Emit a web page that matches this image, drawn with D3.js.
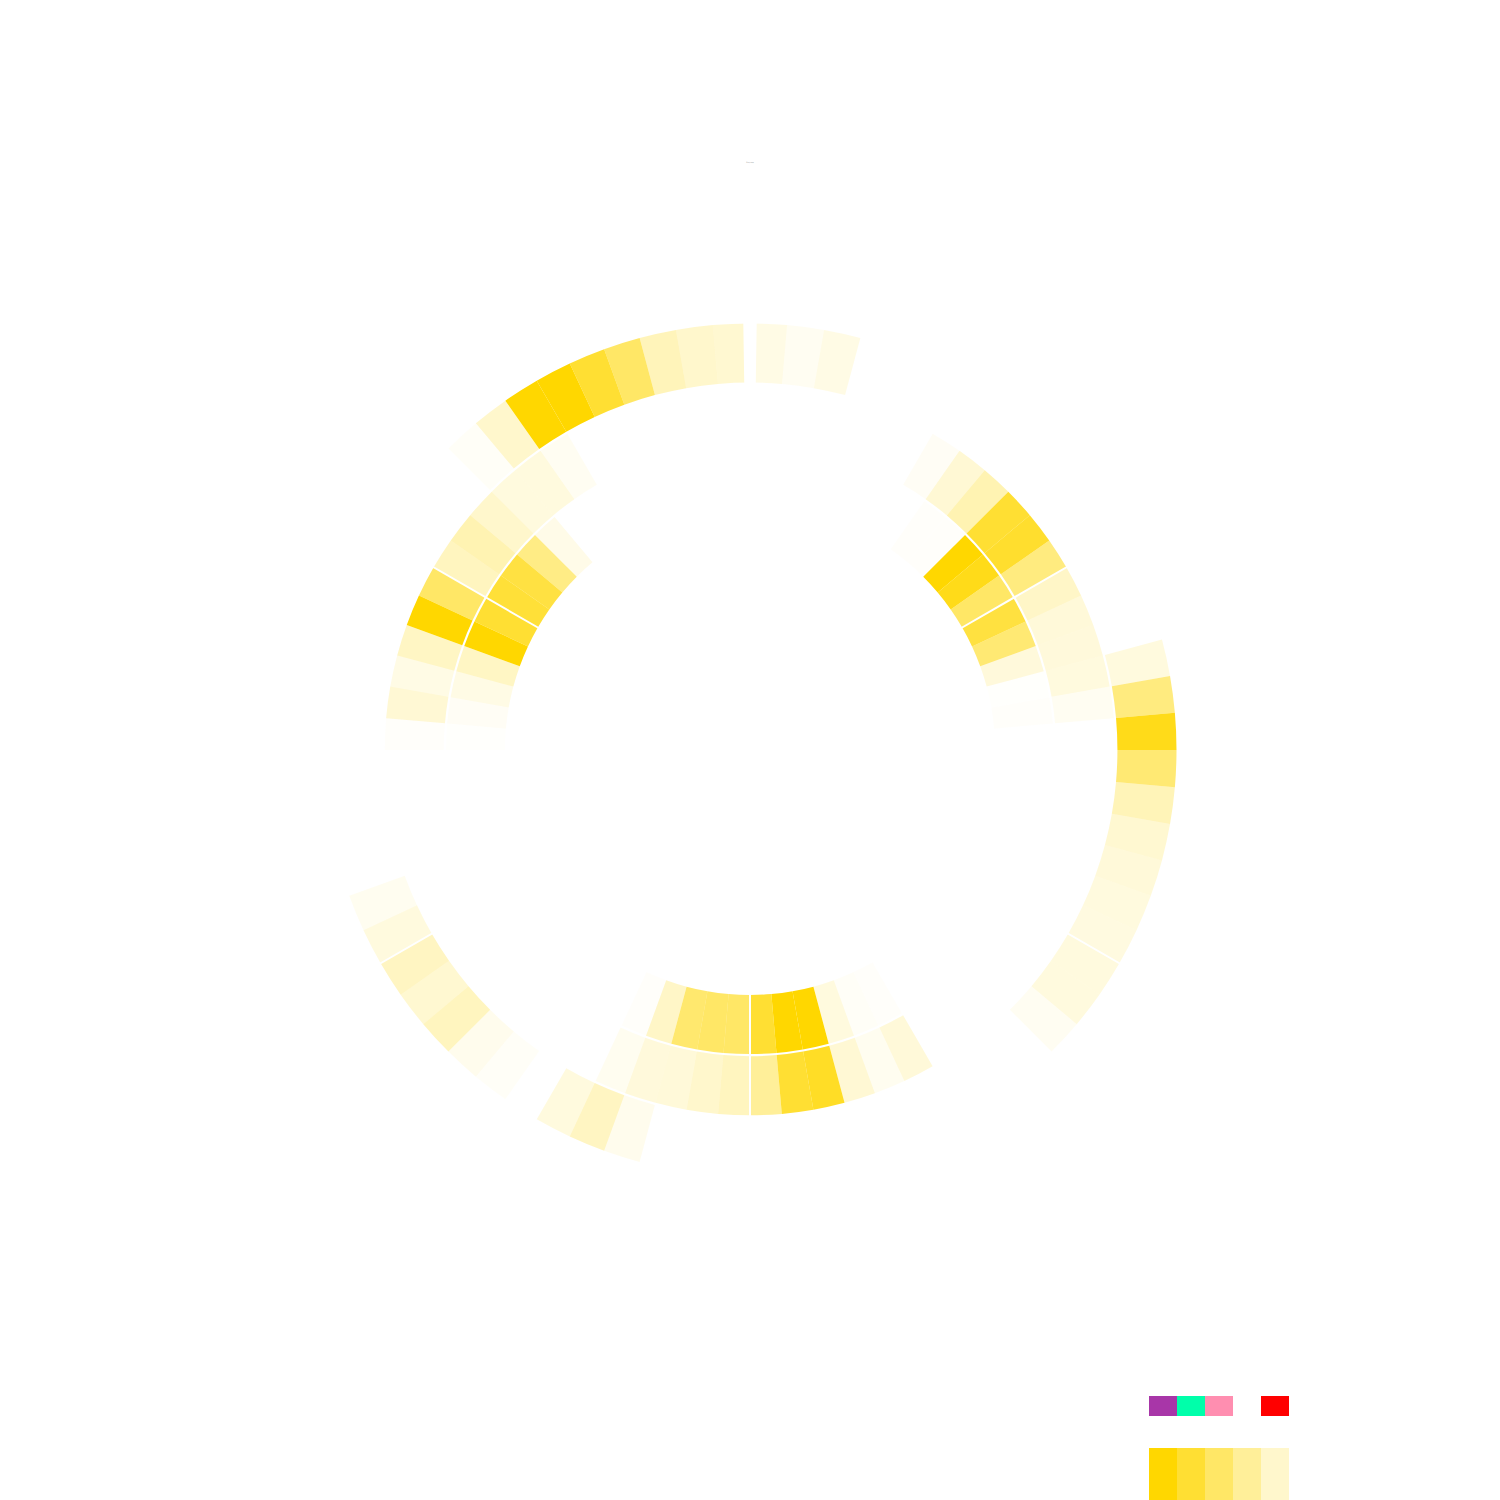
<!DOCTYPE html>
<html>
<head>
<meta charset="utf-8">
<script src="https://cdn.jsdelivr.net/npm/d3@7"></script>
<style>
  html, body { margin: 0; padding: 0; background: #ffffff; }
  svg { display: block; }
</style>
</head>
<body>
<svg id="chart" width="1500" height="1500"></svg>
<script>
// ---- data (72 angular cells of 5 degrees, clockwise from top; null = no cell) ----
const ring0 = [
  null, null, null, null, null, null, null, 0.02, 0.02, 1.0, 0.9, 0.6,
  0.75, 0.55, 0.14, 0.01, 0.02, null, null, null, null, null, null, null,
  null, null, null, null, null, null, 0.02, 0.03, 0.13, 1.0, 1.0, 0.8,
  0.6, 0.6, 0.57, 0.22, 0.02, null, null, null, null, null, null, null,
  null, null, null, null, null, null, 0.01, 0.04, 0.1, 0.23, 1.0, 0.8,
  0.78, 0.74, 0.48, 0.09, null, null, null, null, null, null, null, null
];
const ring1 = [
  null, null, null, null, null, null, 0.04, 0.17, 0.3, 0.8, 0.82, 0.5,
  0.22, 0.15, 0.14, 0.13, 0.05, null, null, null, null, null, null, null,
  null, null, null, null, null, null, 0.15, 0.06, 0.17, 0.85, 0.8, 0.4,
  0.25, 0.2, 0.15, 0.14, 0.06, null, null, null, null, null, null, null,
  null, null, null, null, null, null, 0.02, 0.17, 0.1, 0.23, 1.0, 0.6,
  0.25, 0.3, 0.2, 0.13, 0.13, 0.05, null, null, null, null, null, null
];
const ring2 = [
  0.1, 0.05, 0.1, null, null, null, null, null, null, null, null, null,
  null, null, null, 0.13, 0.5, 0.9, 0.55, 0.28, 0.18, 0.15, 0.13, 0.12,
  0.13, 0.13, 0.05, null, null, null, null, null, null, null, null, null,
  null, null, null, 0.07, 0.24, 0.13, null, 0.03, 0.07, 0.25, 0.18, 0.24,
  0.13, 0.06, null, null, null, null, null, null, null, null, null, null,
  null, null, null, 0.03, 0.2, 1.0, 1.0, 0.8, 0.6, 0.27, 0.2, 0.18
];
const sectorStarts = [0, 60, 120, 180, 240, 300];   // degrees
const legendCategoryColors = ["#a836a8", "#00ffaa", "#ff8eb0", "#ffffff", "#ff0000"];
const legendSteps = [1.0, 0.8, 0.6, 0.4, 0.2];
const titleText = "Ring map";

// ---- drawing ----
const svg = d3.select("#chart");
const W = 1500, H = 1500, cx = 750, cy = 750;
const cellColor = "#FFD700";

svg.append("rect").attr("width", W).attr("height", H).attr("fill", "#ffffff");

svg.append("text")
  .attr("x", cx).attr("y", 163)
  .attr("text-anchor", "middle")
  .attr("font-family", "DejaVu Sans, sans-serif")
  .attr("font-size", 1.6)
  .attr("fill", "#777")
  .text(titleText);

const nCells = ring0.length;
const angle = d3.scaleLinear().domain([0, nCells]).range([0, 2 * Math.PI]);
const radius = d3.scaleBand().domain([0, 1, 2]).range([245, 426.5]).paddingInner(0.035);
const opacity = d3.scaleLinear().domain([0, 1]).range([0, 1]).clamp(true);

const rings = [ring0, ring1, ring2];
const cells = [];
rings.forEach((arr, ri) => arr.forEach((v, k) => { if (v !== null) cells.push({ ring: ri, k, v }); }));

const arc = d3.arc()
  .innerRadius(d => radius(d.ring))
  .outerRadius(d => radius(d.ring) + radius.bandwidth())
  .startAngle(d => angle(d.k))
  .endAngle(d => angle(d.k + 1));

const g = svg.append("g").attr("transform", `translate(${cx},${cy})`);
g.selectAll("path.cell")
  .data(cells)
  .join("path")
  .attr("class", "cell")
  .attr("d", arc)
  .attr("fill", cellColor)
  .attr("fill-opacity", d => opacity(d.v));

// sector separators
const rIn = radius(0) - 2, rOut = radius(2) + radius.bandwidth() + 2;
const toRad = d3.scaleLinear().domain([0, 360]).range([0, 2 * Math.PI]);
g.selectAll("line.sep")
  .data(sectorStarts.filter(a => a !== 0))
  .join("line")
  .attr("class", "sep")
  .attr("x1", a => rIn * Math.sin(toRad(a)))
  .attr("y1", a => -rIn * Math.cos(toRad(a)))
  .attr("x2", a => rOut * Math.sin(toRad(a)))
  .attr("y2", a => -rOut * Math.cos(toRad(a)))
  .attr("stroke", "#ffffff")
  .attr("stroke-width", 2);

// start/end gap at the top
g.append("path")
  .attr("d", d3.arc()({ innerRadius: rIn, outerRadius: rOut, startAngle: toRad(-0.9), endAngle: toRad(0.9) }))
  .attr("fill", "#ffffff");

// ---- legend ----
const lx = 1149, sw = 28;
const legend = svg.append("g");
legend.selectAll("rect.cat")
  .data(legendCategoryColors)
  .join("rect")
  .attr("class", "cat")
  .attr("x", (d, i) => lx + i * sw)
  .attr("y", 1396)
  .attr("width", sw)
  .attr("height", 20)
  .attr("fill", d => d);

legend.selectAll("rect.step")
  .data(legendSteps)
  .join("rect")
  .attr("class", "step")
  .attr("x", (d, i) => lx + i * sw)
  .attr("y", 1448)
  .attr("width", sw)
  .attr("height", 60)
  .attr("fill", cellColor)
  .attr("fill-opacity", d => d);
</script>
</body>
</html>
